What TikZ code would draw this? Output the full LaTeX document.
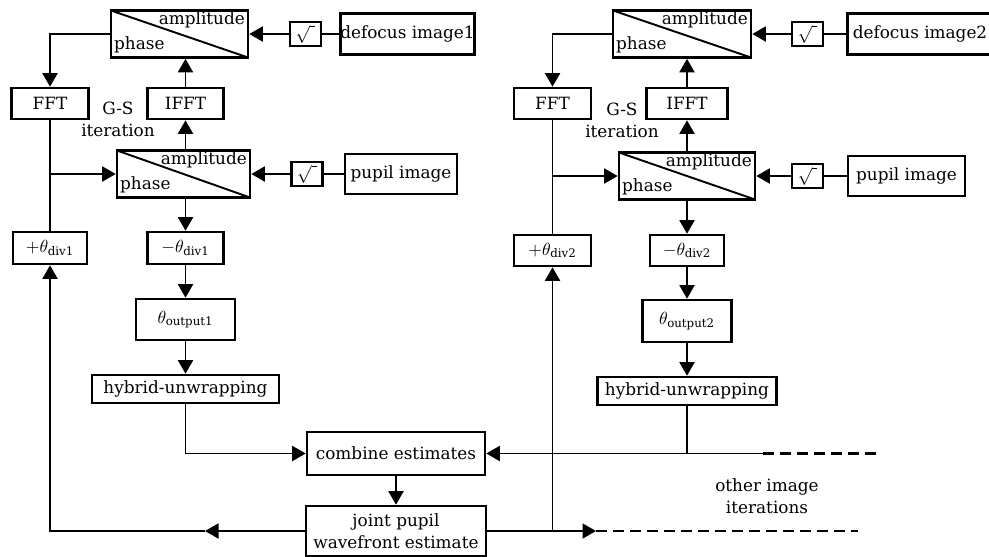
\documentclass[tikz,border=0pt]{standalone}
\usepackage{fontspec}
\setmainfont{DejaVu Serif}
\usetikzlibrary{arrows.meta}
\begin{document}
\begin{tikzpicture}[x=0.02cm, y=-0.02cm, line width=1.1pt, >={Triangle[length=0.27cm, width=0.3cm]},
    every node/.style={font=\fontsize{9.6}{12.5}\selectfont},
    blk/.style={rectangle, draw, line width=1.5pt, inner sep=0pt},
    apbox/.style={blk, minimum height=0.94cm, path picture={\draw[line width=1.1pt] (path picture bounding box.north west) -- (path picture bounding box.south east);}},
    amp/.style={anchor=north east, inner xsep=2pt, inner ysep=1pt},
    pha/.style={anchor=south west, inner xsep=2pt, inner ysep=3pt},
    sq/.style={blk, minimum width=0.62cm, minimum height=0.48cm},
    dashpat/.style={line width=1.5pt, dash pattern=on 0.22cm off 0.12cm}]
    \useasboundingbox (0,0) rectangle (989,556);

    % First image: G-S loop.
    \node[apbox, minimum width=2.74cm] (A_1) at (179.5,34) {};
    \node[amp] (A_1-amp) at (A_1.north east) {amplitude};
    \node[pha] (A_1-ph) at (A_1.south west) {phase};
    \node[sq] (S_1) at (305.5,34) {$\sqrt{\;}$};
    \node[blk, minimum width=2.5cm, minimum height=0.82cm] (D_1) at (407.5,34) {defocus image1};
    \node[blk, minimum width=1.54cm, minimum height=0.62cm] (FFT_1) at (50,103.5) {FFT};
    \node[blk, minimum width=1.52cm, minimum height=0.62cm] (IFFT_1) at (185.5,103.5) {IFFT};
    \node[align=center, inner sep=0pt] (GS_1) at (118,119) {G-S\\iteration};
    \node[apbox, minimum width=2.66cm] (B_1) at (183.5,174) {};
    \node[amp] (B_1-amp) at (B_1.north east) {amplitude};
    \node[pha] (B_1-ph) at (B_1.south west) {phase};
    \node[sq] (S_1b) at (307,174) {$\sqrt{\;}$};
    \node[blk, minimum width=2.24cm, minimum height=0.8cm] (P_1) at (401,174) {pupil image};

    % First image: output.
    \node[blk, minimum width=1.48cm, minimum height=0.64cm] (Pd_1) at (50,248) {$+\theta_{\mathrm{div1}}$};
    \node[blk, minimum width=1.52cm, minimum height=0.64cm] (Md_1) at (185.5,248) {$-\theta_{\mathrm{div1}}$};
    \node[blk, minimum width=1.98cm, minimum height=0.82cm] (O_1) at (185.5,319.5) {$\theta_{\mathrm{output1}}$};
    \node[blk, minimum width=3.74cm, minimum height=0.56cm] (H_1) at (185.5,389) {hybrid-unwrapping};

    % Second image: G-S loop.
    \node[apbox, minimum width=2.76cm] (A_2) at (682,34) {};
    \node[amp] (A_2-amp) at (A_2.north east) {amplitude};
    \node[pha] (A_2-ph) at (A_2.south west) {phase};
    \node[sq] (S_2) at (807.5,34) {$\sqrt{\;}$};
    \node[blk, minimum width=2.9cm, minimum height=0.82cm] (D_2) at (920,34) {defocus image2};
    \node[blk, minimum width=1.54cm, minimum height=0.62cm] (FFT_2) at (552.5,103.5) {FFT};
    \node[blk, minimum width=1.62cm, minimum height=0.62cm] (IFFT_2) at (687,103.5) {IFFT};
    \node[align=center, inner sep=0pt] (GS_2) at (622,120) {G-S\\iteration};
    \node[apbox, minimum width=2.72cm] (B_2) at (687,176) {};
    \node[amp] (B_2-amp) at (B_2.north east) {amplitude};
    \node[pha] (B_2-ph) at (B_2.south west) {phase};
    \node[sq] (S_2b) at (807.5,176) {$\sqrt{\;}$};
    \node[blk, minimum width=2.34cm, minimum height=0.8cm] (P_2) at (906.5,176) {pupil image};

    % Second image: output.
    \node[blk, minimum width=1.54cm, minimum height=0.62cm] (Pd_2) at (552.5,250.5) {$+\theta_{\mathrm{div2}}$};
    \node[blk, minimum width=1.48cm, minimum height=0.62cm] (Md_2) at (687,250.5) {$-\theta_{\mathrm{div2}}$};
    \node[blk, minimum width=1.78cm, minimum height=0.84cm] (O_2) at (687,321) {$\theta_{\mathrm{output2}}$};
    \node[blk, minimum width=3.58cm, minimum height=0.56cm] (H_2) at (687,391) {hybrid-unwrapping};

    % Joint estimate.
    \node[blk, minimum width=3.56cm, minimum height=0.86cm] (C) at (396,453.5) {combine estimates};
    \node[blk, minimum width=3.6cm, minimum height=1cm, align=center] (J) at (396,531) {joint pupil\\wavefront estimate};
    \node[align=center, inner sep=0pt] (Oth) at (767,496) {other image\\iterations};
    \coordinate (L_1) at (205,531);
    \coordinate (R_1) at (596,531);
    \coordinate (R_2) at (858,531);
    \coordinate (C_1) at (763,453.5);
    \coordinate (C_2) at (880,453.5);

    % Loop connections.
    \draw[->] (A_1.west) -| (FFT_1.north);
    \draw[->] (FFT_1.south) |- (B_1.west);
    \draw (Pd_1.north) -- (FFT_1.south |- B_1.west);
    \draw[->] (IFFT_1.south |- B_1.north) -- (IFFT_1.south);
    \draw[->] (IFFT_1.north) -- (IFFT_1.north |- A_1.south);
    \draw (D_1.west) -- (S_1.east);
    \draw[->] (S_1.west) -- (A_1.east);
    \draw (P_1.west) -- (S_1b.east);
    \draw[->] (S_1b.west) -- (B_1.east);
    \draw[->] (Md_1.north |- B_1.south) -- (Md_1.north);
    \draw[->] (Md_1.south) -- (O_1.north);
    \draw[->] (O_1.south) -- (H_1.north);

    \draw[->] (A_2.west) -| (FFT_2.north);
    \draw[->] (FFT_2.south) |- (B_2.west);
    \draw (Pd_2.north) -- (FFT_2.south |- B_2.west);
    \draw[->] (IFFT_2.south |- B_2.north) -- (IFFT_2.south);
    \draw[->] (IFFT_2.north) -- (IFFT_2.north |- A_2.south);
    \draw (D_2.west) -- (S_2.east);
    \draw[->] (S_2.west) -- (A_2.east);
    \draw (P_2.west) -- (S_2b.east);
    \draw[->] (S_2b.west) -- (B_2.east);
    \draw[->] (Md_2.north |- B_2.south) -- (Md_2.north);
    \draw[->] (Md_2.south) -- (O_2.north);
    \draw[->] (O_2.south) -- (H_2.north);

    % Combine and feed back.
    \draw[->] (H_1.south) |- (C.west);
    \draw (H_2.south) -- (H_2.south |- C.east);
    \draw[->] (C_1) -- (C.east);
    \draw[dashpat] (C_1) -- (C_2);
    \draw[->] (C.south) -- (J.north);
    \draw[->] (J.west) -- (L_1);
    \draw[->] (L_1) -| (Pd_1.south);
    \draw[->] (J.east) -- (R_1);
    \draw[dashpat] (R_1) -- (R_2);
    \draw[->] (J.east -| Pd_2.south) -- (Pd_2.south);

\end{tikzpicture}
\end{document}
